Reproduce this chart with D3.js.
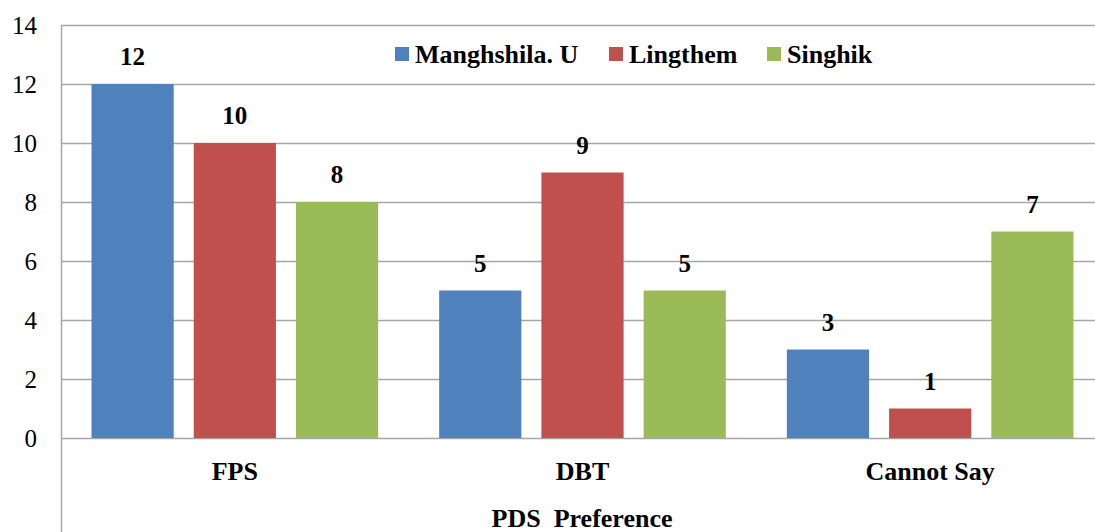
<!DOCTYPE html>
<html>
<head>
<meta charset="utf-8">
<script src="https://cdn.jsdelivr.net/npm/d3@7"></script>
<style>
  body { margin: 0; background: #fff; }
</style>
</head>
<body>
<script>
var categories = ['FPS', 'DBT', 'Cannot Say'];
var seriesNames = ['Manghshila. U', 'Lingthem', 'Singhik'];
var seriesColors = ['#4F81BD', '#C0504D', '#9BBB59'];
var manghshila = [12, 5, 3];
var lingthem = [10, 9, 1];
var singhik = [8, 5, 7];
var yTicks = [0, 2, 4, 6, 8, 10, 12, 14];
var xTitle = 'PDS  Preference';

var values = [manghshila, lingthem, singhik];

var width = 1095;
var height = 532;
var plotLeft = 61, plotTop = 25, plotRight = 1104, plotBottom = 438;
var serif = 'Liberation Serif';

var svg = d3.select('body')
    .append('svg')
    .attr('width', width)
    .attr('height', height)
    .attr('font-family', serif);

var x = d3.scaleBand()
    .domain(categories)
    .range([plotLeft, plotRight]);

var y = d3.scaleLinear()
    .domain([0, 14])
    .range([plotBottom, plotTop]);

// inner scale: bars 82 wide with ~20px gaps, ~31px outer padding
var bw = x.bandwidth();
var x1 = d3.scaleBand()
    .domain(seriesNames)
    .range([30.5, bw - 30.5])
    .paddingInner(0.196);

// gridlines
svg.append('g')
    .selectAll('line')
    .data(yTicks)
    .enter()
    .append('line')
    .attr('x1', plotLeft)
    .attr('x2', width)
    .attr('y1', function(d) { return Math.round(y(d)) + 0.5; })
    .attr('y2', function(d) { return Math.round(y(d)) + 0.5; })
    .attr('stroke', '#a6a6a6')
    .attr('stroke-width', 1.5);

// left axis line
svg.append('line')
    .attr('x1', plotLeft + 0.5).attr('x2', plotLeft + 0.5)
    .attr('y1', plotTop).attr('y2', height)
    .attr('stroke', '#a6a6a6')
    .attr('stroke-width', 1.5);

// y tick labels
svg.append('g')
    .selectAll('text')
    .data(yTicks)
    .enter()
    .append('text')
    .attr('x', 37)
    .attr('y', function(d) { return y(d); })
    .attr('dy', '0.34em')
    .attr('text-anchor', 'end')
    .attr('font-size', 25)
    .text(function(d) { return d; });

// bars
var groups = svg.append('g')
    .selectAll('g')
    .data(categories)
    .enter()
    .append('g')
    .attr('transform', function(d) { return 'translate(' + x(d) + ',0)'; });

function rows(c, i) {
    return seriesNames.map(function(s, j) { return { s: s, j: j, v: values[j][i] }; });
}

groups.selectAll('rect')
    .data(rows)
    .enter()
    .append('rect')
    .attr('x', function(d) { return x1(d.s); })
    .attr('width', x1.bandwidth())
    .attr('y', function(d) { return y(d.v); })
    .attr('height', function(d) { return y(0) - y(d.v); })
    .attr('fill', function(d) { return seriesColors[d.j]; });

groups.selectAll('text')
    .data(rows)
    .enter()
    .append('text')
    .attr('x', function(d) { return x1(d.s) + x1.bandwidth() / 2; })
    .attr('y', function(d) { return y(d.v) - 19; })
    .attr('text-anchor', 'middle')
    .attr('font-size', 25)
    .attr('font-weight', 'bold')
    .text(function(d) { return d.v; });

// category labels
svg.append('g')
    .selectAll('text')
    .data(categories)
    .enter()
    .append('text')
    .attr('x', function(d) { return x(d) + bw / 2; })
    .attr('y', 480)
    .attr('text-anchor', 'middle')
    .attr('font-size', 26)
    .attr('font-weight', 'bold')
    .text(function(d) { return d; });

svg.append('text')
    .attr('x', 582)
    .attr('y', 527)
    .attr('text-anchor', 'middle')
    .attr('font-size', 26)
    .attr('font-weight', 'bold')
    .style('white-space', 'pre')
    .text(xTitle);

// legend
var legendX = [395, 609, 767];
var legend = svg.append('g')
    .selectAll('g')
    .data(seriesNames)
    .enter()
    .append('g')
    .attr('transform', function(d, i) { return 'translate(' + legendX[i] + ',47)'; });

legend.append('rect')
    .attr('width', 14)
    .attr('height', 14)
    .attr('fill', function(d, i) { return seriesColors[i]; });

legend.append('text')
    .attr('x', 20)
    .attr('y', 16)
    .attr('font-size', 26)
    .attr('font-weight', 'bold')
    .text(function(d) { return d; });
</script>
</body>
</html>
